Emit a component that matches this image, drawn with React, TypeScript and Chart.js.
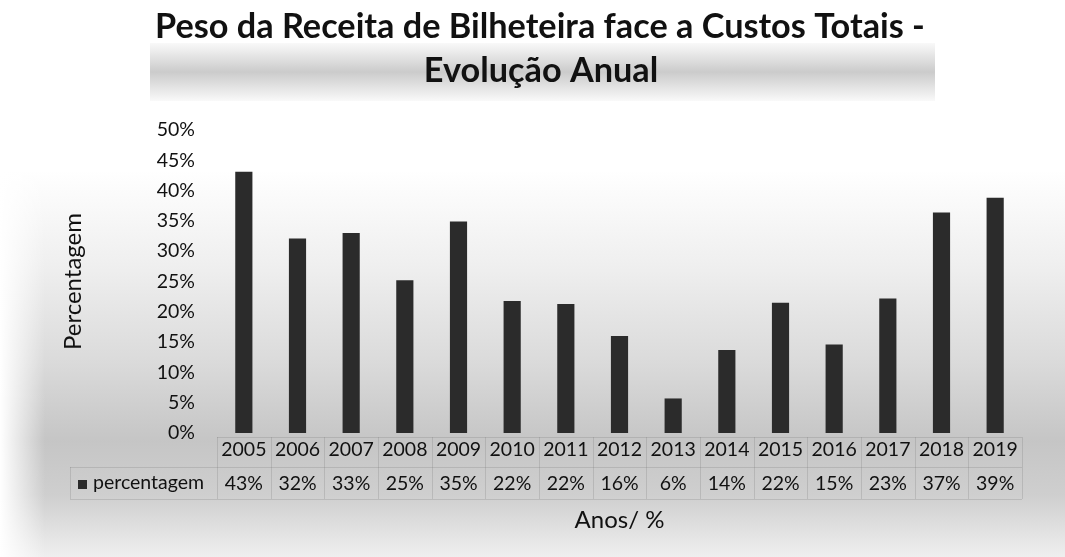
import React, { useEffect, useRef } from 'react';
import { Chart, registerables } from 'chart.js';

Chart.register(...registerables);

const years = ['2005', '2006', '2007', '2008', '2009', '2010', '2011', '2012', '2013', '2014', '2015', '2016', '2017', '2018', '2019'];
const values = [43.1, 32.1, 33.0, 25.2, 34.9, 21.8, 21.3, 16.0, 5.7, 13.7, 21.5, 14.6, 22.2, 36.4, 38.8];
const tableLabels = ['43%', '32%', '33%', '25%', '35%', '22%', '22%', '16%', '6%', '14%', '22%', '15%', '23%', '37%', '39%'];
const seriesName = 'percentagem';
const titleLines = ['Peso da Receita de Bilheteira face a Custos Totais -', 'Evolução Anual'];
const yTitle = 'Percentagem';
const xTitle = 'Anos/ %';

const BAR = '#2b2b2b';
const TEXT = '#111111';
const FONT = 'Lato';

const backgroundPlugin = {
  id: 'bgDither',
  beforeDraw(chart: any) {
    const { ctx, width, height } = chart;
    ctx.save();
    ctx.fillStyle = '#ffffff';
    ctx.fillRect(0, 0, width, height);
    const g = ctx.createLinearGradient(0, 170, 0, height);
    g.addColorStop(0, 'rgba(140,140,140,0)');
    g.addColorStop(0.25, 'rgba(140,140,140,0.14)');
    g.addColorStop(0.5, 'rgba(140,140,140,0.32)');
    g.addColorStop(0.7, 'rgba(140,140,140,0.5)');
    g.addColorStop(0.84, 'rgba(140,140,140,0.42)');
    g.addColorStop(1, 'rgba(140,140,140,0.14)');
    ctx.fillStyle = g;
    ctx.fillRect(0, 170, width, height - 170);
    // soften the left edge
    const lg = ctx.createLinearGradient(0, 0, 45, 0);
    lg.addColorStop(0, 'rgba(255,255,255,1)');
    lg.addColorStop(1, 'rgba(255,255,255,0)');
    ctx.fillStyle = lg;
    ctx.fillRect(0, 170, 45, height - 170);
    // title band
    const tb = ctx.createLinearGradient(0, 43, 0, 101);
    tb.addColorStop(0, 'rgba(140,140,140,0.05)');
    tb.addColorStop(0.5, 'rgba(140,140,140,0.45)');
    tb.addColorStop(1, 'rgba(140,140,140,0.05)');
    ctx.fillStyle = tb;
    ctx.fillRect(150, 43, 785, 58);
    ctx.restore();
  },
};

const overlayPlugin = {
  id: 'overlay',
  afterDraw(chart: any) {
    const { ctx, chartArea, scales } = chart;
    const x = scales.x;
    ctx.save();
    // Title
    ctx.fillStyle = TEXT;
    ctx.textAlign = 'center';
    ctx.textBaseline = 'alphabetic';
    ctx.font = `bold 30px ${FONT}`;
    const w = ctx.measureText(titleLines[0]).width;
    const size = 30 * 770 / w;
    ctx.font = `bold ${size}px ${FONT}`;
    ctx.fillText(titleLines[0], 540, 38);
    ctx.fillText(titleLines[1], 541, 82);

    // Data table
    const left = chartArea.left;
    const right = chartArea.right;
    const step = (right - left) / years.length;
    const rowTop = 437;
    const rowMid = 467;
    const rowBot = 499;
    ctx.strokeStyle = 'rgba(120,120,120,0.25)';
    ctx.lineWidth = 1;
    ctx.beginPath();
    ctx.moveTo(left, rowTop + 0.5);
    ctx.lineTo(right, rowTop + 0.5);
    ctx.moveTo(70, rowMid + 0.5);
    ctx.lineTo(right, rowMid + 0.5);
    ctx.moveTo(70, rowBot + 0.5);
    ctx.lineTo(right, rowBot + 0.5);
    for (let i = 0; i <= years.length; i++) {
      const px = Math.round(left + i * step) + 0.5;
      ctx.moveTo(px, rowTop);
      ctx.lineTo(px, rowBot);
    }
    ctx.moveTo(70.5, rowMid);
    ctx.lineTo(70.5, rowBot);
    ctx.stroke();

    ctx.font = `19.5px ${FONT}`;
    ctx.textAlign = 'center';
    ctx.textBaseline = 'middle';
    ctx.fillStyle = TEXT;
    tableLabels.forEach((t, i) => {
      ctx.fillText(t, x.getPixelForValue(i), 484);
    });
    ctx.fillStyle = BAR;
    ctx.fillRect(78, 480, 9, 9);
    ctx.fillStyle = TEXT;
    ctx.textAlign = 'left';
    ctx.fillText(seriesName, 93, 483);
    ctx.restore();
  },
};

export default function App() {
  const ref = useRef<HTMLCanvasElement | null>(null);
  useEffect(() => {
    document.body.style.margin = '0';
    const canvas = ref.current;
    if (!canvas) return;
    const chart = new Chart(canvas, {
      type: 'bar',
      data: {
        labels: years,
        datasets: [
          {
            label: seriesName,
            data: values,
            backgroundColor: BAR,
            borderWidth: 0,
            barPercentage: 0.32,
            categoryPercentage: 1,
          },
        ],
      },
      options: {
        responsive: false,
        animation: false,
        layout: { padding: { top: 130, left: 0, right: 43, bottom: 0 } },
        plugins: {
          legend: { display: false },
          title: { display: false },
          tooltip: { enabled: false },
        },
        scales: {
          x: {
            grid: { display: false, drawTicks: false },
            border: { display: false },
            ticks: { color: TEXT, font: { family: FONT, size: 19.5 }, padding: 5, maxRotation: 0, autoSkip: false },
            title: { display: true, text: xTitle, color: TEXT, font: { family: FONT, size: 24 }, padding: { top: 0, bottom: 22 } },
            afterFit(scale: any) {
              scale.height = 124;
            },
          },
          y: {
            min: 0,
            max: 50,
            grid: { display: false, drawTicks: false },
            border: { display: false },
            ticks: {
              stepSize: 5,
              color: TEXT,
              font: { family: FONT, size: 19.5 },
              padding: 22,
              callback: (v: any) => `${v}%`,
            },
            title: { display: true, text: yTitle, color: TEXT, font: { family: FONT, size: 24 }, padding: { top: 59, bottom: 0 } },
            afterFit(scale: any) {
              scale.width = 217;
            },
          },
        },
      },
      plugins: [backgroundPlugin, overlayPlugin],
    });
    return () => chart.destroy();
  }, []);
  return (
    <div style={{ width: 1065, height: 557 }}>
      <canvas ref={ref} width={1065} height={557} style={{ display: 'block' }} />
    </div>
  );
}
